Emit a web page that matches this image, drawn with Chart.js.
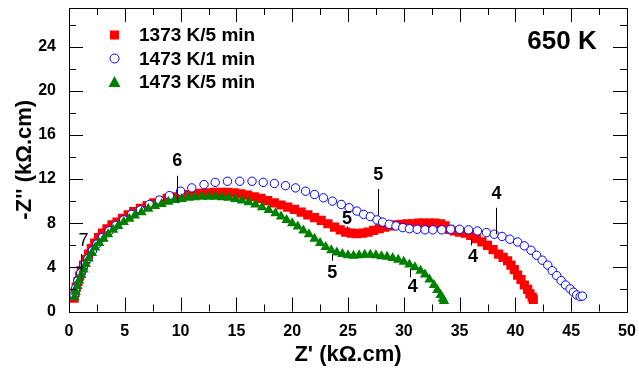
<!DOCTYPE html>
<html>
<head>
<meta charset="utf-8">
<script src="https://cdn.jsdelivr.net/npm/chart.js@4.4.0/dist/chart.umd.min.js"></script>
<style>
  html, body { margin: 0; padding: 0; background: #fff; }
  canvas { display: block; }
</style>
</head>
<body>
<canvas id="grafico" width="639" height="371"></canvas>
<script>
// series names
const series = ["1373 K/5 min", "1473 K/1 min", "1473 K/5 min"];

// 1373 K / 5 min  (Z' , -Z'' in kOhm.cm)
const re1373_5 = [0.45,0.55,0.65,0.8,0.95,1.1,1.3,1.5,1.75,2.0,2.3,2.65,3.0,3.4,3.85,4.3,4.8,5.3,5.8,6.4,7.0,7.6,8.2,8.8,9.4,10.0,10.6,11.2,11.8,12.4,13.0,13.6,14.2,14.8,15.4,16.0,16.6,17.2,17.8,18.4,19.0,19.6,20.2,20.8,21.4,22.0,22.6,23.2,23.8,24.3,24.8,25.3,25.8,26.3,26.8,27.3,27.8,28.3,28.8,29.3,29.8,30.3,30.8,31.3,31.8,32.3,32.8,33.3,33.7,34.1,34.5,35.0,35.5,36.0,36.5,37.0,37.5,38.0,38.5,38.9,39.3,39.6,39.9,40.2,40.5,40.8,41.1,41.3,41.5,41.6];
const im1373_5 = [1.2,1.7,2.2,2.7,3.2,3.7,4.2,4.7,5.2,5.7,6.2,6.7,7.1,7.5,7.85,8.1,8.45,8.75,9.05,9.35,9.6,9.85,10.05,10.25,10.4,10.5,10.6,10.65,10.7,10.75,10.8,10.8,10.8,10.75,10.65,10.55,10.4,10.25,10.05,9.85,9.65,9.45,9.25,9.0,8.75,8.5,8.25,7.95,7.65,7.4,7.2,7.1,7.05,7.1,7.2,7.35,7.5,7.65,7.75,7.85,7.9,7.95,7.95,8.0,8.0,8.0,8.0,7.95,7.75,7.45,7.3,7.2,7.1,6.9,6.6,6.3,6.0,5.6,5.2,4.9,4.6,4.2,3.8,3.3,2.9,2.4,2.0,1.6,1.3,1.1];

// 1473 K / 1 min
const re1473_1 = [0.45,0.6,0.8,1.05,1.35,1.7,2.1,2.5,3.0,3.6,4.2,4.9,5.6,6.4,7.2,8.1,9.0,10.0,11.0,12.1,13.1,14.2,15.3,16.4,17.4,18.4,19.4,20.3,21.2,22.0,22.8,23.6,24.4,25.1,25.8,26.4,27.0,27.6,28.1,28.7,29.3,29.9,30.5,31.2,31.9,32.6,33.4,34.2,35.0,35.8,36.6,37.4,38.1,38.8,39.5,40.2,40.8,41.4,41.9,42.4,42.9,43.3,43.7,44.1,44.5,44.9,45.2,45.5,45.8,46.0];
const im1473_1 = [1.5,2.1,2.8,3.5,4.2,4.8,5.5,6.1,6.7,7.3,7.8,8.3,8.8,9.2,9.7,10.1,10.5,10.9,11.2,11.5,11.7,11.8,11.8,11.8,11.7,11.6,11.4,11.2,10.9,10.6,10.3,10.0,9.7,9.4,9.1,8.8,8.6,8.3,8.1,7.9,7.75,7.6,7.5,7.45,7.4,7.4,7.4,7.45,7.45,7.4,7.3,7.15,7.0,6.8,6.55,6.3,5.95,5.55,5.1,4.65,4.2,3.7,3.25,2.8,2.4,2.05,1.75,1.5,1.35,1.4];

// 1473 K / 5 min
const re1473_5 = [0.5,0.6,0.75,0.9,1.1,1.3,1.5,1.75,2.05,2.35,2.7,3.1,3.5,3.95,4.4,4.9,5.4,5.9,6.5,7.1,7.7,8.3,8.9,9.5,10.1,10.7,11.3,11.9,12.5,13.1,13.7,14.3,14.9,15.5,16.1,16.7,17.3,17.9,18.5,19.0,19.5,20.0,20.5,21.0,21.5,22.0,22.5,23.0,23.5,24.0,24.5,25.0,25.5,26.0,26.5,27.0,27.5,28.0,28.5,29.0,29.5,30.0,30.5,31.0,31.5,31.9,32.3,32.7,33.0,33.3,33.5,33.6];
const im1473_5 = [1.3,1.8,2.3,2.8,3.3,3.8,4.3,4.8,5.3,5.8,6.2,6.6,7.0,7.4,7.75,8.1,8.4,8.7,9.0,9.3,9.55,9.75,9.95,10.1,10.2,10.3,10.35,10.4,10.4,10.4,10.35,10.3,10.2,10.05,9.9,9.7,9.45,9.2,8.9,8.6,8.3,8.0,7.7,7.35,7.0,6.6,6.2,5.85,5.55,5.35,5.2,5.1,5.05,5.1,5.15,5.15,5.1,5.0,4.95,4.85,4.7,4.5,4.25,4.0,3.7,3.35,2.9,2.4,1.95,1.5,1.15,0.95];

// axis ticks
const xTickValues = [0, 5, 10, 15, 20, 25, 30, 35, 40, 45, 50];
const yTickValues = [0, 4, 8, 12, 16, 20, 24];

// frequency labels on the curves: text, label point, marker line
const freqLabels = [
  { text: "7", x: 1.3, y: 6.4, x0: 1.1, y0: 3.1, y1: 5.2, bold: false },
  { text: "6", x: 9.7, y: 13.6, x0: 9.7, y0: 9.9, y1: 12.3, bold: true },
  { text: "5", x: 27.7, y: 12.4, x0: 27.7, y0: 8.7, y1: 11.1, bold: true },
  { text: "5", x: 24.9, y: 8.4, x0: 24.9, y0: 7.3, y1: 7.7, bold: true },
  { text: "5", x: 23.6, y: 3.5, x0: 23.6, y0: 4.6, y1: 5.2, bold: true },
  { text: "4", x: 30.8, y: 2.2, x0: 30.6, y0: 3.1, y1: 3.9, bold: true },
  { text: "4", x: 38.3, y: 10.6, x0: 38.3, y0: 7.0, y1: 9.4, bold: true },
  { text: "4", x: 36.2, y: 4.9, x0: 36.0, y0: 6.0, y1: 6.6, bold: true }
];

const fonte = "'Liberation Sans', Arial, Helvetica, sans-serif";

function pontos(xs, ys) {
  return xs.map((v, i) => ({ x: v, y: ys[i] }));
}

const decoracao = {
  id: "decoracao",
  afterDraw(chart) {
    const ctx = chart.ctx;
    const a = chart.chartArea;
    const sx = chart.scales.x;
    const sy = chart.scales.y;
    ctx.save();

    // frame
    ctx.strokeStyle = "#000";
    ctx.lineWidth = 1;
    ctx.strokeRect(Math.round(a.left) + 0.5, Math.round(a.top) + 0.5,
      Math.round(a.right - a.left), Math.round(a.bottom - a.top));

    // inward ticks on all four sides
    ctx.beginPath();
    for (let v = 0; v <= 50; v += 2.5) {
      const px = Math.round(sx.getPixelForValue(v)) + 0.5;
      const len = v % 5 === 0 ? 14 : 7;
      ctx.moveTo(px, a.bottom); ctx.lineTo(px, a.bottom - len);
      ctx.moveTo(px, a.top); ctx.lineTo(px, a.top + len);
    }
    for (let v = 0; v <= 27; v += 2) {
      const py = Math.round(sy.getPixelForValue(v)) + 0.5;
      const len = v % 4 === 0 ? 14 : 7;
      ctx.moveTo(a.left, py); ctx.lineTo(a.left + len, py);
      ctx.moveTo(a.right, py); ctx.lineTo(a.right - len, py);
    }
    ctx.stroke();

    // frequency markers
    ctx.fillStyle = "#000";
    ctx.textAlign = "center";
    ctx.textBaseline = "middle";
    freqLabels.forEach(f => {
      const lx = Math.round(sx.getPixelForValue(f.x0)) + 0.5;
      ctx.beginPath();
      ctx.moveTo(lx, sy.getPixelForValue(f.y0));
      ctx.lineTo(lx, sy.getPixelForValue(f.y1));
      ctx.stroke();
      ctx.font = (f.bold ? "bold " : "") + "18px " + fonte;
      ctx.fillText(f.text, sx.getPixelForValue(f.x), sy.getPixelForValue(f.y));
    });

    // temperature label
    ctx.font = "bold 26px " + fonte;
    ctx.fillText("650 K", 562, 42);

    // legend
    ctx.textAlign = "left";
    ctx.font = "bold 19px " + fonte;
    const filas = [35, 58.5, 82];
    // red square
    ctx.fillStyle = "#ff0000";
    ctx.fillRect(110, filas[0] - 4.5, 9, 9);
    // blue circle
    ctx.strokeStyle = "#0000ff";
    ctx.beginPath();
    ctx.arc(114.5, filas[1], 4.5, 0, Math.PI * 2);
    ctx.stroke();
    // green triangle
    ctx.fillStyle = "#008000";
    ctx.beginPath();
    ctx.moveTo(114.5, filas[2] - 6);
    ctx.lineTo(120.5, filas[2] + 5);
    ctx.lineTo(108.5, filas[2] + 5);
    ctx.closePath();
    ctx.fill();
    ctx.fillStyle = "#000";
    series.forEach((s, i) => ctx.fillText(s, 139, filas[i] + 1));

    ctx.restore();
  }
};

new Chart(document.getElementById("grafico"), {
  type: "scatter",
  data: {
    datasets: [
      {
        label: series[0],
        data: pontos(re1373_5, im1373_5),
        pointStyle: "rect",
        pointRadius: 6.5,
        backgroundColor: "#ff0000",
        borderColor: "#ff0000",
        borderWidth: 0,
        order: 3
      },
      {
        label: series[1],
        data: pontos(re1473_1, im1473_1),
        pointStyle: "circle",
        pointRadius: 4.2,
        backgroundColor: "#ffffff",
        borderColor: "#0000ff",
        borderWidth: 1,
        order: 2
      },
      {
        label: series[2],
        data: pontos(re1473_5, im1473_5),
        pointStyle: "triangle",
        pointRadius: 6,
        backgroundColor: "#008000",
        borderColor: "#008000",
        borderWidth: 0,
        order: 1
      }
    ]
  },
  options: {
    responsive: false,
    animation: false,
    devicePixelRatio: 1,
    layout: { padding: { top: 8, right: 12, left: 0, bottom: 0 } },
    plugins: {
      legend: { display: false },
      tooltip: { enabled: false }
    },
    scales: {
      x: {
        type: "linear",
        min: 0,
        max: 50,
        afterBuildTicks: s => { s.ticks = xTickValues.map(v => ({ value: v })); },
        afterFit: s => { s.height = 59.5; s.paddingLeft = 0; s.paddingRight = 0; },
        grid: { display: false },
        border: { display: false },
        ticks: { color: "#000", padding: 2, font: { family: fonte, size: 16, weight: "bold" } },
        title: {
          display: true,
          text: "Z' (kΩ.cm)",
          color: "#000",
          padding: { top: 0, bottom: 3 },
          font: { family: fonte, size: 22, weight: "bold" }
        }
      },
      y: {
        type: "linear",
        min: 0,
        max: 27.5,
        afterBuildTicks: s => { s.ticks = yTickValues.map(v => ({ value: v })); },
        afterFit: s => { s.width = 69; s.paddingTop = 0; s.paddingBottom = 0; },
        grid: { display: false },
        border: { display: false },
        ticks: { color: "#000", padding: 5, font: { family: fonte, size: 16, weight: "bold" } },
        title: {
          display: true,
          text: "-Z'' (kΩ.cm)",
          color: "#000",
          padding: { top: 12, bottom: 0 },
          font: { family: fonte, size: 22, weight: "bold" }
        }
      }
    }
  },
  plugins: [decoracao]
});
</script>
</body>
</html>
